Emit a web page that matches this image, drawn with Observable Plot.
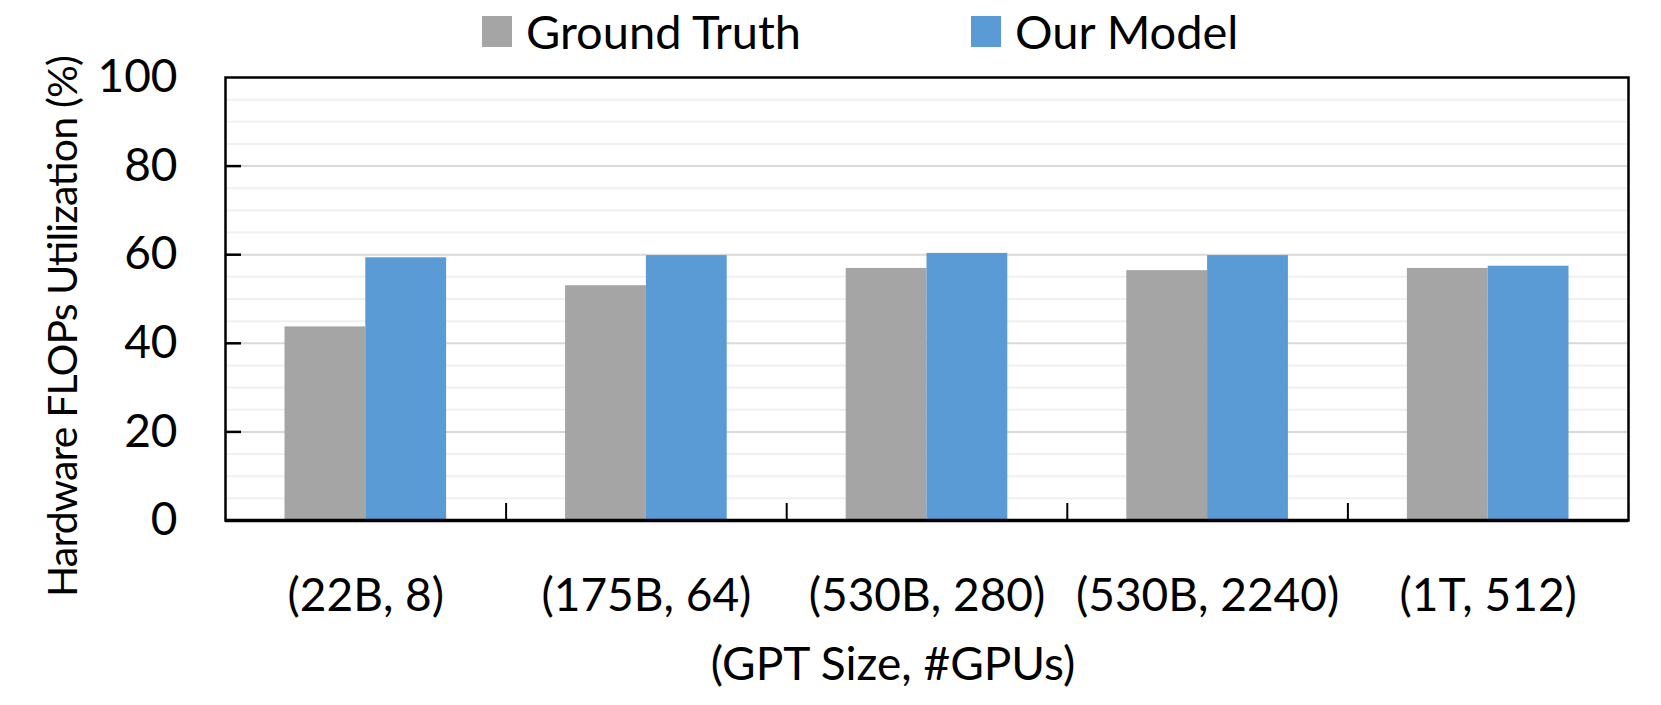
<!DOCTYPE html>
<html>
<head>
<meta charset="utf-8">
<script src="https://cdn.jsdelivr.net/npm/d3@7"></script>
<script src="https://cdn.jsdelivr.net/npm/@observablehq/plot@0.6"></script>
<style>
  html, body { margin: 0; padding: 0; background: #fff; }
  #wrap { position: relative; width: 1661px; height: 705px; overflow: hidden; }
  #legend { position: relative; height: 62px; font-family: Lato, "Liberation Sans", sans-serif; font-size: 47px; color: #000; }
  .item { position: absolute; top: 0; height: 62px; display: flex; align-items: center; }
  .sw { width: 30px; height: 31px; margin-right: 14px; }
  svg { overflow: visible; }
</style>
</head>
<body>
<div id="wrap">
  <div id="legend"></div>
  <div id="chart"></div>
</div>
<script>
const categories = ["(22B, 8)", "(175B, 64)", "(530B, 280)", "(530B, 2240)", "(1T, 512)"];
const groundTruth = [43.7, 53.0, 56.9, 56.4, 56.9];
const ourModel = [59.3, 59.8, 60.3, 59.8, 57.4];
const seriesNames = ["Ground Truth", "Our Model"];
const seriesColors = ["#a5a5a5", "#5b9bd5"];
const yTicks = [0, 20, 40, 60, 80, 100];
const minorTicks = d3.range(5, 100, 5).filter(v => v % 20 !== 0);
const majorTicks = [20, 40, 60, 80];
const boundaries = [0.5, 1.5, 2.5, 3.5];
const xLabel = "(GPT Size, #GPUs)";
const yLabel = "Hardware FLOPs Utilization (%)";

const FONT = 'Lato, "Liberation Sans", sans-serif';
const half = 0.288;

// legend
const legend = document.getElementById("legend");
const legendLeft = [482, 971];
seriesNames.forEach((name, i) => {
  const it = document.createElement("div");
  it.className = "item";
  it.style.left = legendLeft[i] + "px";
  const sw = document.createElement("div");
  sw.className = "sw";
  sw.style.background = seriesColors[i];
  const tx = document.createElement("span");
  tx.textContent = name;
  it.appendChild(sw); it.appendChild(tx);
  legend.appendChild(it);
});

const rows = categories.map((c, i) => ({i, c, gt: groundTruth[i], om: ourModel[i]}));

const chart = Plot.plot({
  width: 1661,
  height: 643,
  marginTop: 15,
  marginBottom: 185,
  marginLeft: 225,
  marginRight: 33,
  style: {fontFamily: FONT, fontSize: "46px", color: "#000", background: "transparent"},
  x: {type: "linear", domain: [-0.5, categories.length - 0.5], axis: null},
  y: {domain: [0, 100], axis: null},
  marks: [
    Plot.ruleY(minorTicks, {stroke: "#f0f0f0", strokeWidth: 2}),
    Plot.ruleY(majorTicks, {stroke: "#d9d9d9", strokeWidth: 2}),
    Plot.rectY(rows, {x1: d => d.i - half, x2: d => d.i, y1: 0, y2: "gt", fill: seriesColors[0]}),
    Plot.rectY(rows, {x1: d => d.i, x2: d => d.i + half, y1: 0, y2: "om", fill: seriesColors[1]}),
    Plot.axisY({ticks: yTicks, tickSize: 0, tickPadding: 48, fontSize: 46, tickFormat: d => String(d)}),
    Plot.axisY({ticks: majorTicks, tickSize: -16, tickFormat: () => "", strokeWidth: 2.5}),
    Plot.axisX({ticks: d3.range(categories.length), tickSize: 0, tickPadding: 58, fontSize: 46, tickFormat: i => categories[i]}),
    Plot.axisX({ticks: boundaries, tickSize: -17, tickFormat: () => "", strokeWidth: 2}),
    Plot.frame({stroke: "#000", strokeWidth: 2.5}),
    Plot.ruleY([0], {stroke: "#000", strokeWidth: 3.5}),
    Plot.text([xLabel], {frameAnchor: "bottom", dx: -34, dy: 145, lineAnchor: "middle", textAnchor: "middle", fontSize: 46, fontFamily: FONT}),
    Plot.text([yLabel], {frameAnchor: "left", dx: -162, dy: 27, rotate: -90, lineAnchor: "middle", textAnchor: "middle", fontSize: 41, fontFamily: FONT})
  ]
});
document.getElementById("chart").appendChild(chart);
// stretch y title to the reference's length
chart.querySelectorAll("text").forEach(t => {
  if (t.textContent === yLabel) { t.setAttribute("textLength", 542); t.setAttribute("lengthAdjust", "spacing"); }
});
</script>
</body>
</html>
